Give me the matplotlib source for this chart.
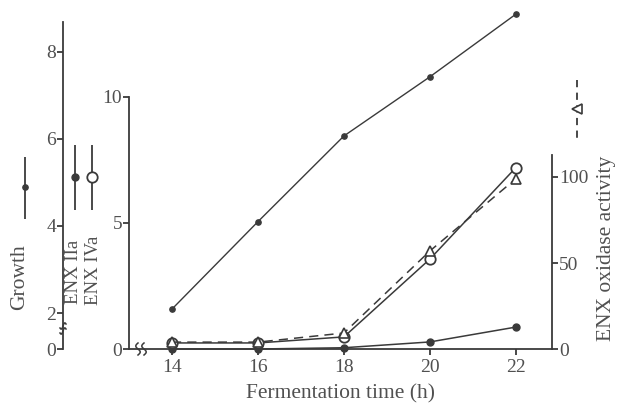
import numpy as np
import matplotlib
matplotlib.use('Agg')
import matplotlib.pyplot as plt
from matplotlib import rcParams

rcParams['font.family'] = ['Liberation Serif', 'DejaVu Serif']
rcParams['font.size'] = 14
rcParams['axes.linewidth'] = 1.3

LINE = '#3a3a3a'
TEXT = '#505050'

# data
hours = [14, 16, 18, 20, 22]
growth = [2.09, 4.1, 6.07, 7.43, 8.87]
enx_2a = [0.0, 0.0, 0.05, 0.28, 0.87]
enx_4a = [0.24, 0.24, 0.48, 3.57, 7.2]
activity = [4, 4, 9.3, 57, 99]

W, H = 620, 409
fig = plt.figure(figsize=(W / 100, H / 100), dpi=100)


def px_rect(x0, x1, ytop, ybot):
    return [x0 / W, 1 - ybot / H, (x1 - x0) / W, (ybot - ytop) / H]


XL, XR = 129, 552
xlim = (13.0, 22.84)

# growth axis (broken between 0 and 2)
g_ppu = 43.5
g_lo = 2 - (349 - 313) / g_ppu
g_hi = 2 + 313 / g_ppu
axg = fig.add_axes(px_rect(XL, XR, 0, 349))
axg.set_xlim(*xlim)
axg.set_ylim(g_lo, g_hi)
axg.patch.set_alpha(0)
for s in ['top', 'right', 'bottom']:
    axg.spines[s].set_visible(False)
axg.spines['left'].set_position(('outward', 47.5))
axg.spines['left'].set_bounds(g_lo, 8.69)
axg.spines['left'].set_color(LINE)
axg.set_xticks([])
axg.set_yticks([g_lo, 2, 4, 6, 8])
axg.set_yticklabels(['0', '2', '4', '6', '8'])
axg.tick_params(axis='y', direction='out', length=4, width=1.3,
                colors=LINE, labelcolor=TEXT, pad=1)
axg.plot(hours, growth, color=LINE, lw=1.0, marker='o', ms=3.8,
         mfc=LINE, mec=LINE, clip_on=False, zorder=5)

# ENX IIa / IVa axis
ax = fig.add_axes(px_rect(XL, XR, 97, 349))
ax.set_xlim(*xlim)
ax.set_ylim(0, 10)
ax.patch.set_alpha(0)
for s in ['top', 'right']:
    ax.spines[s].set_visible(False)
for s in ['left', 'bottom']:
    ax.spines[s].set_color(LINE)
ax.set_xticks(hours)
ax.set_yticks([0, 5, 10])
ax.tick_params(direction='out', length=4, width=1.3, colors=LINE,
               labelcolor=TEXT, pad=3)
ax.tick_params(axis='y', pad=1)
ax.set_xlabel('Fermentation time (h)', fontsize=15.5, color=TEXT, labelpad=6)
ax.plot(hours, enx_2a, color=LINE, lw=1.1, marker='o', ms=5,
        mfc=LINE, mec=LINE, clip_on=False, zorder=5)
ax.plot(hours, enx_4a, color=LINE, lw=1.1, marker='o', ms=7.5,
        mfc='white', mec=LINE, mew=1.3, clip_on=False, zorder=6)

# ENX oxidase activity axis
axa = fig.add_axes(px_rect(XL, XR, 155, 349))
axa.set_xlim(*xlim)
axa.set_ylim(0, 194 / 1.72)
axa.patch.set_alpha(0)
for s in ['top', 'left', 'bottom']:
    axa.spines[s].set_visible(False)
axa.spines['right'].set_color(LINE)
axa.set_xticks([])
axa.yaxis.tick_right()
axa.set_yticks([0, 50, 100])
axa.tick_params(axis='y', direction='out', length=4, width=1.3,
                colors=LINE, labelcolor=TEXT, pad=1)
axa.plot(hours, activity, color=LINE, lw=1.1, ls=(0, (6, 4)), marker='^',
         ms=7, mfc='white', mec=LINE, mew=1.2, clip_on=False, zorder=4)

# overlay in pixel coords for labels, keys and break marks
ov = fig.add_axes([0, 0, 1, 1])
ov.set_xlim(0, W)
ov.set_ylim(H, 0)
ov.axis('off')
ov.patch.set_alpha(0)

ov.errorbar([25], [187], yerr=[[30], [32]], fmt='o', ms=3.8, color=LINE,
            elinewidth=1.3, capsize=0)
ov.errorbar([75], [177], yerr=[[32], [33]], fmt='o', ms=5, color=LINE,
            elinewidth=1.3, capsize=0)
ov.errorbar([92], [177], yerr=[[32], [33]], fmt='o', ms=7.5, color=LINE,
            mfc='white', mew=1.3, elinewidth=1.3, capsize=0)
ov.plot([577, 577], [80, 140], color=LINE, lw=1.3, ls=(0, (4, 3)))
ov.plot([577], [109], marker='<', ms=7, mfc='white', mec=LINE, mew=1.2)

ov.text(20, 277, 'Growth', rotation=90, ha='center', va='center',
        fontsize=15.5, color=TEXT)
ov.text(73, 272, 'ENX IIa', rotation=90, ha='center', va='center',
        fontsize=13.5, color=TEXT)
ov.text(93, 270, 'ENX IVa', rotation=90, ha='center', va='center',
        fontsize=13.5, color=TEXT)
ov.text(607, 248, 'ENX oxidase activity', rotation=90, ha='center',
        va='center', fontsize=15.5, color=TEXT)

# axis break squiggles
t = np.linspace(0, 1, 30)
for dx in [0, 6]:
    ov.plot(138 + dx + 2.2 * np.sin(2 * np.pi * t), 355 - 12 * t,
            color=LINE, lw=1.1)
for dy in [0, 5]:
    ov.plot(60 + 6 * t, 333 - dy + 2 * np.sin(2 * np.pi * t) - 4 * t,
            color=LINE, lw=1.1)

fig.savefig('out.png', dpi=100)
